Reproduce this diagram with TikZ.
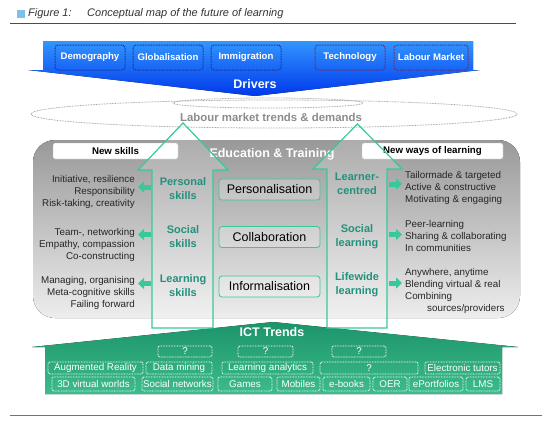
\documentclass[tikz,border=0pt]{standalone}
\usepackage{fontspec}
\setmainfont{Liberation Sans}
\usetikzlibrary{arrows.meta,positioning}
\definecolor{drvtop}{RGB}{50,150,255}
\definecolor{drvbot}{RGB}{0,55,235}
\definecolor{drvdot}{RGB}{30,45,150}
\definecolor{drvred}{RGB}{115,35,100}
\definecolor{ictop}{RGB}{28,148,105}
\definecolor{icbot}{RGB}{60,188,140}
\definecolor{tealline}{RGB}{55,200,155}
\definecolor{tealtext}{RGB}{35,145,125}
\definecolor{hdrblue}{RGB}{125,192,232}
\definecolor{hdrtext}{RGB}{50,50,50}
\begin{document}
\begin{tikzpicture}[x=1pt,y=-1pt,
  dots/.style={line width=.8pt,dash pattern=on .8pt off .8pt},
  drv/.style={draw=drvdot,dots,line width=1pt,rounded corners=3pt,minimum width=70pt,minimum height=25pt,inner sep=0pt,text=white,font=\fontsize{9.6}{11}\selectfont\bfseries},
  ict/.style={draw=white,dots,rounded corners=2pt,inner sep=0pt,text=white,font=\fontsize{9.8}{11}\selectfont},
  way/.style={draw=gray!60,fill=white,rounded corners=2pt,minimum height=16pt,inner sep=0pt,font=\fontsize{9.7}{11}\selectfont\bfseries},
  mode/.style={draw=tealline,thick,fill=white,fill opacity=.25,text opacity=1,rounded corners=3pt,minimum width=101pt,minimum height=21pt,inner sep=0pt,font=\fontsize{12.5}{14}\selectfont},
  lbl/.style={text=tealtext,align=center,inner sep=0pt,font=\fontsize{11}{14}\selectfont\bfseries},
  lst/.style={inner sep=0pt,text=black!85,font=\fontsize{9.8}{11.8}\selectfont},
  title/.style={text=white,inner sep=0pt,font=\fontsize{12.5}{14}\selectfont\bfseries},
  bigarr/.style={draw=tealline,line width=1.2pt,fill=white,fill opacity=.2},
  smarr/.style={tealline,line width=5pt,-{Triangle[length=6pt,width=11pt]}},
  cloudline/.style={draw=gray!70,dots}]
\useasboundingbox (0,0) rectangle (548,432);
% header
\fill[hdrblue] (17,10) rectangle (25,18);
\node[anchor=west,inner sep=0pt,text=hdrtext,font=\fontsize{11}{13}\selectfont\itshape] (fig) at (28,14) {Figure 1:};
\node[anchor=west,inner sep=0pt,text=hdrtext,font=\fontsize{11}{13}\selectfont\itshape] (cap) at (87,14) {Conceptual map of the future of learning};
\draw[black!70] (10,23) -- (516,23);
% drivers
\fill[top color=drvtop,bottom color=drvbot] (43,41) -- (473,41) -- (473,70) -- (480,70) -- (255,96) -- (28,70) -- (43,70) -- cycle;
\node[drv] (dem) at (90,57.5) {Demography};
\node[drv,right=7pt of dem] (glo) {Globalisation};
\node[drv,right=7pt of glo] (imm) {Immigration};
\node[drv,draw=drvred] (tec) at (350,57.5) {Technology};
\node[drv,draw=drvred,minimum width=74pt,right=8pt of tec] (lab) {Labour Market};
\node[title] (drivers) at (255,84) {Drivers};
% labour market cloud
\draw[cloudline,fill=white] (274,114) ellipse [x radius=243,y radius=14];
\draw[cloudline] (268,103) ellipse [x radius=95,y radius=5];
\node[inner sep=0pt,text=black!45,font=\fontsize{11.4}{13}\selectfont\bfseries] (lmt) at (271,117) {Labour market trends \& demands};
% education and training
\fill[top color=black!40,bottom color=black!7,rounded corners=22pt] (33,140) rectangle (520,318);
\node[way,minimum width=125pt] (nsk) at (115.5,151) {New skills};
\node[way,minimum width=141pt] (nwl) at (432.5,151) {New ways of learning};
\node[title] (edu) at (272,154) {Education \& Training};
\node[mode] (pers) at (269.5,189.5) {Personalisation};
\node[mode] (coll) at (269.5,237) {Collaboration};
\node[mode] (info) at (269.5,286.5) {Informalisation};
% ICT trends
\fill[top color=ictop,bottom color=icbot] (45,394) -- (45,347) -- (32,347) -- (273,322) -- (518,347) -- (502,347) -- (502,394) -- cycle;
\node[title] (ict) at (272,332) {ICT Trends};
\node[ict,minimum width=54pt,minimum height=11pt] (q1) at (185,351.5) {?};
\node[ict,minimum width=55pt,minimum height=11pt] (q2) at (265.5,351.5) {?};
\node[ict,minimum width=54pt,minimum height=11pt] (q3) at (359,351.5) {?};
\node[ict,minimum width=95pt,minimum height=12pt] (ar) at (95.5,368) {Augmented Reality};
\node[ict,minimum width=66pt,minimum height=12pt] (dm) at (179,368) {Data mining};
\node[ict,minimum width=91pt,minimum height=12pt] (la) at (267.5,368) {Learning analytics};
\node[ict,minimum width=98pt,minimum height=12pt] (q4) at (369,368) {?};
\node[ict,minimum width=75pt,minimum height=12pt] (et) at (462.5,368) {Electronic tutors};
\node[ict,minimum width=83pt,minimum height=14pt] (vw) at (93.5,384) {3D virtual worlds};
\node[ict,minimum width=71pt,minimum height=14pt] (sn) at (177.5,384) {Social networks};
\node[ict,minimum width=54pt,minimum height=14pt] (gam) at (245,384) {Games};
\node[ict,minimum width=43pt,minimum height=14pt] (mob) at (298.5,384) {Mobiles};
\node[ict,minimum width=47pt,minimum height=14pt] (ebk) at (346.5,384) {e-books};
\node[ict,minimum width=34pt,minimum height=14pt] (oer) at (390,384) {OER};
\node[ict,minimum width=54pt,minimum height=14pt] (epf) at (436,384) {ePortfolios};
\node[ict,minimum width=34pt,minimum height=14pt] (lms) at (483,384) {LMS};
% big arrows
\draw[bigarr] (152,328) -- (152,170) -- (138,170) -- (183,123) -- (228,170) -- (213,170) -- (213,328) -- cycle;
\draw[bigarr] (327,328) -- (327,169) -- (313,169) -- (357.5,124) -- (402,169) -- (387,169) -- (387,328) -- cycle;
\node[lbl] (psk) at (183,189) {Personal\\skills};
\node[lbl] (ssk) at (183,236.5) {Social\\skills};
\node[lbl] (lsk) at (183,285.5) {Learning\\skills};
\node[lbl] (lcen) at (357,184) {Learner-\\centred};
\node[lbl] (slrn) at (357,236.5) {Social\\learning};
\node[lbl] (lwide) at (357,285) {Lifewide\\learning};
% lists
\node[lst,anchor=east,align=right] (psl) at (135,192) {Initiative, resilience\\Responsibility\\Risk-taking, creativity};
\node[lst,anchor=east,align=right] (ssl) at (135,245) {Team-, networking\\Empathy, compassion\\Co-constructing};
\node[lst,anchor=east,align=right] (lsl) at (135,293) {Managing, organising\\Meta-cognitive skills\\Failing forward};
\node[lst,anchor=west,align=left] (lcl) at (405,188) {Tailormade \& targeted\\Active \& constructive\\Motivating \& engaging};
\node[lst,anchor=west,align=left] (srl) at (405,236) {Peer-learning\\Sharing \& collaborating\\In communities};
\node[lst,anchor=west,align=left] (lwl) at (405,291) {Anywhere, anytime\\Blending virtual \& real\\Combining\\\hspace*{22pt}sources/providers};
\draw[smarr] ([xshift=-32pt,yshift=2pt]psk.center) -- ([xshift=-45pt,yshift=2pt]psk.center);
\draw[smarr] ([xshift=-32pt,yshift=2pt]ssk.center) -- ([xshift=-45pt,yshift=2pt]ssk.center);
\draw[smarr] ([xshift=-32pt,yshift=2pt]lsk.center) -- ([xshift=-45pt,yshift=2pt]lsk.center);
\draw[smarr] ([xshift=32pt]lcen.center) -- ([xshift=45pt]lcen.center);
\draw[smarr] ([xshift=32pt,yshift=2pt]slrn.center) -- ([xshift=45pt,yshift=2pt]slrn.center);
\draw[smarr] ([xshift=32pt,yshift=2pt]lwide.center) -- ([xshift=45pt,yshift=2pt]lwide.center);
% footer
\draw[black!55,line width=1pt] (10,415) -- (542,415);
\end{tikzpicture}
\end{document}
